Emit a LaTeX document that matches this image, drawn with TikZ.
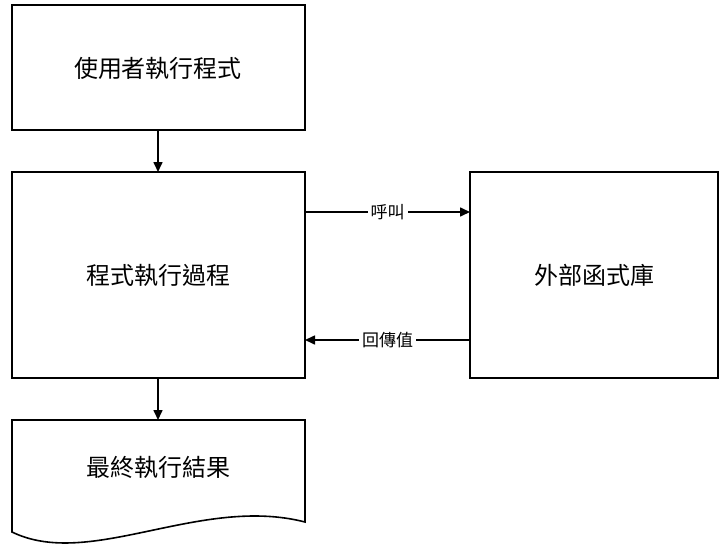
\documentclass[tikz,border=0pt]{standalone}
\usepackage{fontspec}
\usetikzlibrary{arrows.meta}
\newfontfamily\cjk{Noto Sans CJK TC}
\begin{document}
\begin{tikzpicture}[x=1pt,y=-1pt,
  box/.style={draw,line width=1.6pt,fill=white},
  lbl/.style={font=\cjk\fontsize{24}{28}\selectfont},
  small/.style={font=\cjk\fontsize{17}{20}\selectfont,fill=white,inner sep=3pt},
  arr/.style={-{Triangle[length=10pt,width=9pt]},line width=1.6pt}]
\useasboundingbox (0,0) rectangle (726,552);
\draw[box] (12,5) rectangle (305,130);
\node[lbl] (a) at (158,68) {使用者執行程式};
\draw[box] (12,172) rectangle (305,378);
\node[lbl] (b) at (158,275) {程式執行過程};
\draw[box] (470,172) rectangle (718,378);
\node[lbl] (c) at (594,275) {外部函式庫};
\draw[box] (12,420) -- (305,420) -- (305,522) .. controls (200,495) and (90,570) .. (12,532) -- cycle;
\node[lbl] (d) at (158,467) {最終執行結果};
\coordinate (a1) at (158,130); \coordinate (b1) at (158,172);
\coordinate (b2) at (158,378); \coordinate (d1) at (158,420);
\draw[arr] (a1) -- (b1);
\draw[arr] (b2) -- (d1);
\coordinate (p1) at (305,212); \coordinate (p2) at (470,212);
\coordinate (q1) at (470,340); \coordinate (q2) at (305,340);
\draw[arr] (p1) -- node[small] {呼叫} (p2);
\draw[arr] (q1) -- node[small] {回傳值} (q2);
\end{tikzpicture}
\end{document}
